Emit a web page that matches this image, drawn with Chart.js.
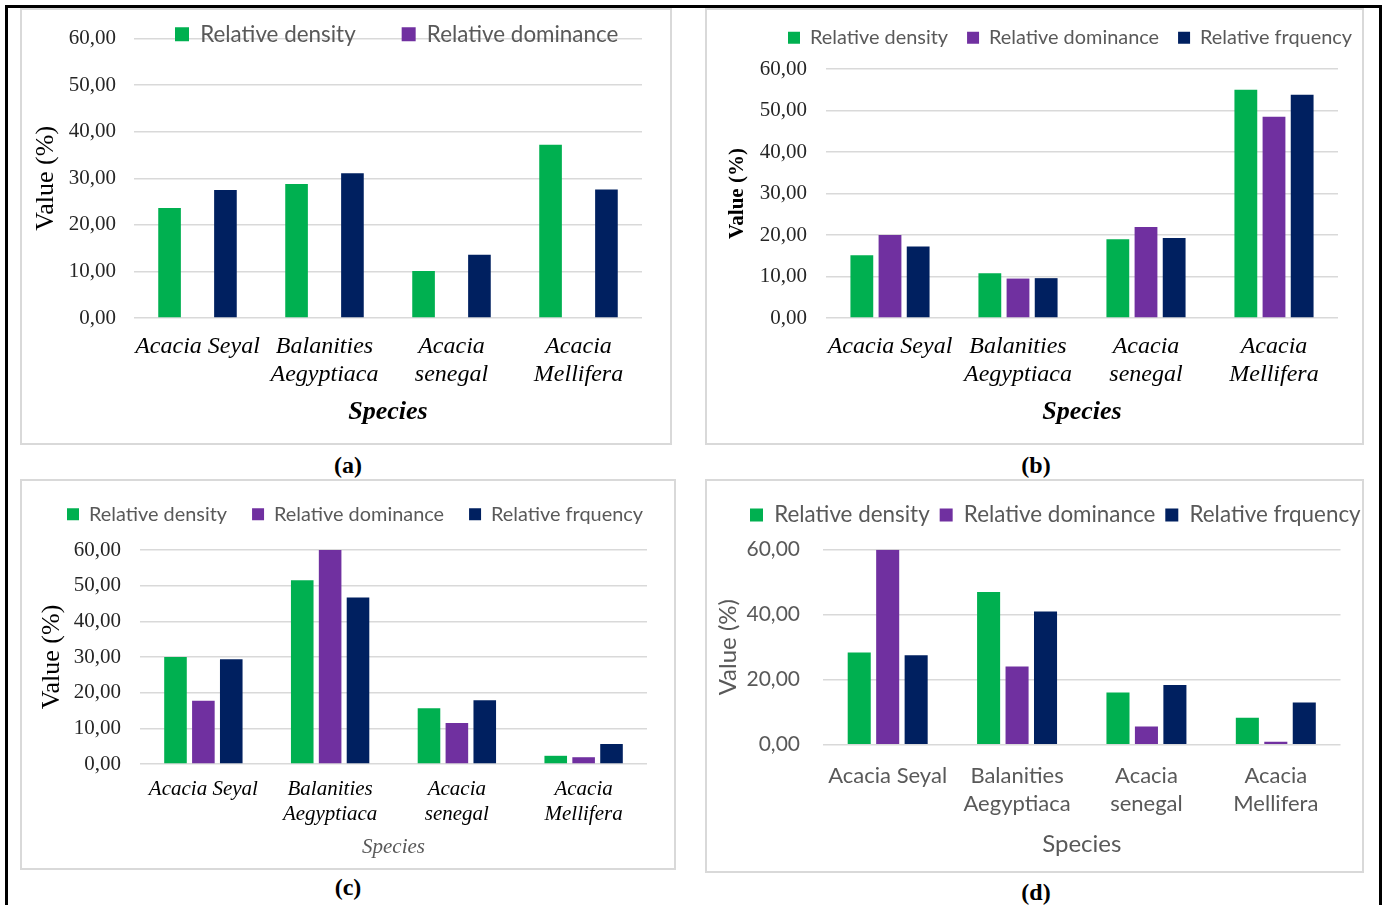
<!DOCTYPE html>
<html>
<head>
<meta charset="utf-8">
<script src="https://cdn.jsdelivr.net/npm/chart.js@4.4.1/dist/chart.umd.min.js"></script>
<style>
  body { margin: 0; background: #fff; }
  #page { position: relative; width: 1384px; height: 905px; overflow: hidden; background: #fff; }
  .frame { position: absolute; left: 5px; top: 5px; width: 1377px; height: 960px; border: 3px solid #000; box-sizing: border-box; }
  .panel { position: absolute; }
  .box { position: absolute; border: 2px solid #d9d9d9; box-sizing: border-box; pointer-events: none; }
  .cap { position: absolute; width: 80px; margin-left: -40px; text-align: center; font: bold 24px "Liberation Serif", serif; line-height: 28px; margin-top: -14px; color: #000; }
</style>
</head>
<body>
<div id="page">
  <div class="frame"></div>

  <div class="box" style="left:20px;top:8px;width:652px;height:437px"></div>
  <div class="panel" style="left:20px;top:8px"><canvas id="chartA" width="652" height="437"></canvas></div>
  <div class="cap" style="left:348px;top:465px">(a)</div>

  <div class="box" style="left:705px;top:8px;width:659px;height:437px"></div>
  <div class="panel" style="left:705px;top:8px"><canvas id="chartB" width="659" height="437"></canvas></div>
  <div class="cap" style="left:1036px;top:465px">(b)</div>

  <div class="box" style="left:20px;top:479px;width:656px;height:391px"></div>
  <div class="panel" style="left:20px;top:479px"><canvas id="chartC" width="656" height="391"></canvas></div>
  <div class="cap" style="left:348px;top:887px">(c)</div>

  <div class="box" style="left:705px;top:479px;width:659px;height:394px"></div>
  <div class="panel" style="left:705px;top:479px"><canvas id="chartD" width="659" height="394"></canvas></div>
  <div class="cap" style="left:1036px;top:892px">(d)</div>
</div>
<script>
// categories and series names shared by the four panels
const species = ['Acacia Seyal', ['Balanities', 'Aegyptiaca'], ['Acacia', 'senegal'], ['Acacia', 'Mellifera']];
const seriesNames = ['Relative density', 'Relative dominance', 'Relative frquency'];

// (a) - no dominance bars drawn in the original
const densityA = [23.6, 28.8, 10.1, 37.2];
const dominanceA = [null, null, null, null];
const frequencyA = [27.5, 31.1, 13.6, 27.6];

// (b)
const densityB = [15.1, 10.8, 19.0, 55.0];
const dominanceB = [20.0, 9.5, 21.9, 48.5];
const frequencyB = [17.2, 9.6, 19.3, 53.8];

// (c)
const densityC = [30.0, 51.5, 15.6, 2.3];
const dominanceC = [17.7, 60.0, 11.5, 1.9];
const frequencyC = [29.4, 46.7, 17.9, 5.6];

// (d)
const densityD = [28.4, 47.0, 16.1, 8.3];
const dominanceD = [60.0, 24.1, 5.6, 0.9];
const frequencyD = [27.5, 41.0, 18.4, 13.0];

const yMax = 60;

const SERIF = '"Liberation Serif", "Times New Roman", serif';
const SANS = 'Lato, "Open Sans", sans-serif';
const GREEN = '#00B050', PURPLE = '#7030A0', NAVY = '#002060';
const GREY_TXT = '#595959';

const commaTick = v => v.toFixed(2).replace('.', ',');

// moves the legend row to a given first-box x / text-centre y (it overlaps the plot in (a))
const legendPlace = {
    id: 'legendPlace',
    afterLayout(chart, args, opts) {
        const lg = chart.legend;
        if (!lg || !lg.lineWidths) return;
        const lab = lg.options.labels;
        const pad = lab.padding;
        const start = (lg.left + pad + lg.right - lg.lineWidths[0]) / 2;
        const dx = opts.x - start;
        lg.left += dx; lg.right += dx;
        const itemH = Math.max(lab.font.size, lab.boxHeight);
        const dy = opts.y - (lg.top + pad + itemH / 2);
        lg.top += dy; lg.bottom += dy;
    }
};

function buildChart(id, p) {
    const itemH = Math.max(p.legendFont.size, p.box);
    const padTop = p.chartTop - (itemH + p.legendPad + 10);
    new Chart(document.getElementById(id), {
        type: 'bar',
        data: {
            labels: species,
            datasets: [
                { label: seriesNames[0], data: p.density, backgroundColor: GREEN },
                { label: seriesNames[1], data: p.dominance, backgroundColor: PURPLE },
                { label: seriesNames[2], data: p.frequency, backgroundColor: NAVY }
            ]
        },
        options: {
            responsive: false,
            animation: false,
            events: [],
            datasets: { bar: { categoryPercentage: 0.66, barPercentage: 0.81 } },
            layout: { padding: { left: 0, right: p.padRight, top: padTop, bottom: p.padBottom } },
            plugins: {
                tooltip: { enabled: false },
                legend: {
                    position: 'top',
                    labels: {
                        font: p.legendFont,
                        color: GREY_TXT,
                        boxWidth: p.box,
                        boxHeight: p.box,
                        padding: p.legendPad,
                        filter: item => item.datasetIndex < p.legendCount
                    }
                },
                legendPlace: { x: p.legendX, y: p.legendY }
            },
            scales: {
                x: {
                    grid: { display: false, drawTicks: false },
                    border: { display: false },
                    ticks: { font: p.xTickFont, color: p.xTickColor, padding: p.xTickPad, maxRotation: 0, autoSkip: false },
                    title: { display: true, text: 'Species', font: p.xTitleFont, color: p.xTitleColor, padding: { top: 0, bottom: p.xTitlePad } },
                    afterFit: s => { s.height = p.xHeight; }
                },
                y: {
                    min: 0,
                    max: yMax,
                    grid: { color: '#d9d9d9', lineWidth: 1.5, drawTicks: false },
                    border: { display: false },
                    ticks: { stepSize: p.step, autoSkip: false, font: p.yTickFont, color: p.yTickColor, padding: p.yTickPad, callback: commaTick },
                    title: { display: true, text: 'Value (%)', font: p.yTitleFont, color: p.yTitleColor, padding: { top: p.yTitlePad, bottom: 0 } },
                    afterFit: s => { s.width = p.yWidth; }
                }
            }
        },
        plugins: [legendPlace]
    });
}

const serifTicks = { family: SERIF, size: 21 };
const serifCats = { family: SERIF, size: 24, style: 'italic', lineHeight: 28 / 24 };
const speciesBold = { family: SERIF, size: 26, style: 'italic', weight: 'bold', lineHeight: 1.15 };

buildChart('chartA', {
    density: densityA, dominance: dominanceA, frequency: frequencyA,
    chartTop: 29, legendY: 26.3, legendX: 155,
    legendFont: { family: SANS, size: 22.4 }, box: 14, legendPad: 46, legendCount: 2,
    padRight: 30, padBottom: 17, xHeight: 110, xTitlePad: 1,
    yWidth: 114, yTickPad: 18, yTickFont: serifTicks, yTickColor: '#262626',
    yTitleFont: { family: SERIF, size: 26, lineHeight: 1.15 }, yTitleColor: '#000', yTitlePad: 11,
    xTickFont: serifCats, xTickColor: '#000', xTickPad: 15,
    xTitleFont: speciesBold, xTitleColor: '#000', step: 10
});

buildChart('chartB', {
    density: densityB, dominance: dominanceB, frequency: frequencyB,
    chartTop: 61, legendY: 29.7, legendX: 83,
    legendFont: { family: SANS, size: 19.9 }, box: 12, legendPad: 19, legendCount: 3,
    padRight: 26, padBottom: 17, xHeight: 110, xTitlePad: 1,
    yWidth: 121, yTickPad: 19, yTickFont: serifTicks, yTickColor: '#262626',
    yTitleFont: { family: SERIF, size: 21, weight: 'bold', lineHeight: 1.15 }, yTitleColor: '#000', yTitlePad: 21,
    xTickFont: serifCats, xTickColor: '#000', xTickPad: 15,
    xTitleFont: speciesBold, xTitleColor: '#000', step: 10
});

buildChart('chartC', {
    density: densityC, dominance: dominanceC, frequency: frequencyC,
    chartTop: 71, legendY: 35.3, legendX: 47,
    legendFont: { family: SANS, size: 19.9 }, box: 12, legendPad: 25, legendCount: 3,
    padRight: 29, padBottom: 6, xHeight: 100, xTitlePad: 4.3,
    yWidth: 120, yTickPad: 19, yTickFont: serifTicks, yTickColor: '#262626',
    yTitleFont: { family: SERIF, size: 26, lineHeight: 1.15 }, yTitleColor: '#000', yTitlePad: 17,
    xTickFont: { family: SERIF, size: 21, style: 'italic', lineHeight: 25 / 21 }, xTickColor: '#000', xTickPad: 13,
    xTitleFont: { family: SERIF, size: 21, style: 'italic', lineHeight: 1.15 }, xTitleColor: GREY_TXT, step: 10
});

buildChart('chartD', {
    density: densityD, dominance: dominanceD, frequency: frequencyD,
    chartTop: 70.7, legendY: 36, legendX: 45,
    legendFont: { family: SANS, size: 22.4 }, box: 13, legendPad: 10, legendCount: 3,
    padRight: 23.5, padBottom: 8.3, xHeight: 120, xTitlePad: 6.2,
    yWidth: 118, yTickPad: 23, yTickFont: { family: SANS, size: 21 }, yTickColor: GREY_TXT,
    yTitleFont: { family: SANS, size: 24, lineHeight: 1.2 }, yTitleColor: GREY_TXT, yTitlePad: 8.4,
    xTickFont: { family: SANS, size: 22, lineHeight: 28.3 / 22 }, xTickColor: GREY_TXT, xTickPad: 17.2,
    xTitleFont: { family: SANS, size: 24, lineHeight: 1.2 }, xTitleColor: GREY_TXT, step: 20
});
</script>
</body>
</html>
